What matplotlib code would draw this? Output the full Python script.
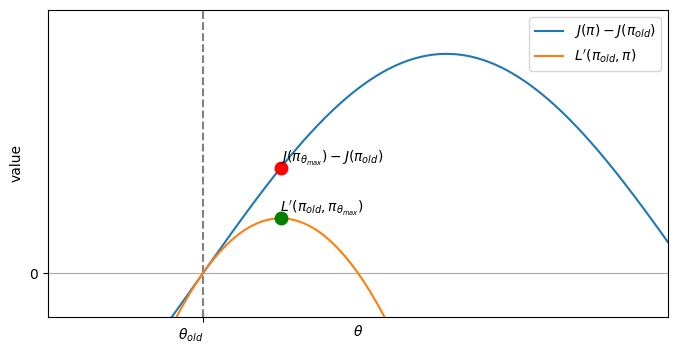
import numpy as np
import matplotlib
matplotlib.use("Agg")
import matplotlib.pyplot as plt

# Parameter axis and the two objectives
theta_old = 0.0
theta_max = 1.0
x_range = (-2.0, 6.0)
y_range = (-0.2, 1.2)
amp = 1.0
freq = 0.5

theta = np.linspace(x_range[0], x_range[1], 500)
true_gain = amp * np.sin(freq * (theta - theta_old))
surrogate = amp * (freq * (theta - theta_old) - (freq * (theta - theta_old)) ** 2)

true_at_max = amp * np.sin(freq * (theta_max - theta_old))
sur_at_max = amp * (freq * (theta_max - theta_old) - (freq * (theta_max - theta_old)) ** 2)

fig, ax = plt.subplots(figsize=(6.78, 3.5), dpi=100)
fig.subplots_adjust(left=48/678, right=668/678, top=1-10/350, bottom=1-317/350)

ax.axhline(0, color="darkgray", lw=0.8, zorder=0)
ax.axvline(theta_old, color="gray", ls="--", lw=1.5)

ax.plot(theta, true_gain, label=r"$J(\pi) - J(\pi_{old})$")
ax.plot(theta, surrogate, label=r"$L'(\pi_{old}, \pi)$")

ax.plot(theta_max, true_at_max, "o", color="red", ms=9)
ax.plot(theta_max, sur_at_max, "o", color="green", ms=9)
ax.text(theta_max, true_at_max, r"$J(\pi_{\theta_{max}}) - J(\pi_{old})$",
        ha="left", va="bottom")
ax.text(theta_max, sur_at_max, r"$L'(\pi_{old}, \pi_{\theta_{max}})$",
        ha="left", va="bottom")

ax.set_xlim(*x_range)
ax.set_ylim(*y_range)
ax.set_xticks([theta_old])
ax.set_xticklabels([r"$\theta_{old}$"], ha="right")
ax.set_yticks([0])
ax.set_xlabel(r"$\theta$")
ax.xaxis.set_label_coords(0.5, -0.023)
ax.set_ylabel("value")
ax.legend(loc="upper right")

fig.savefig("out.png", dpi=100)
